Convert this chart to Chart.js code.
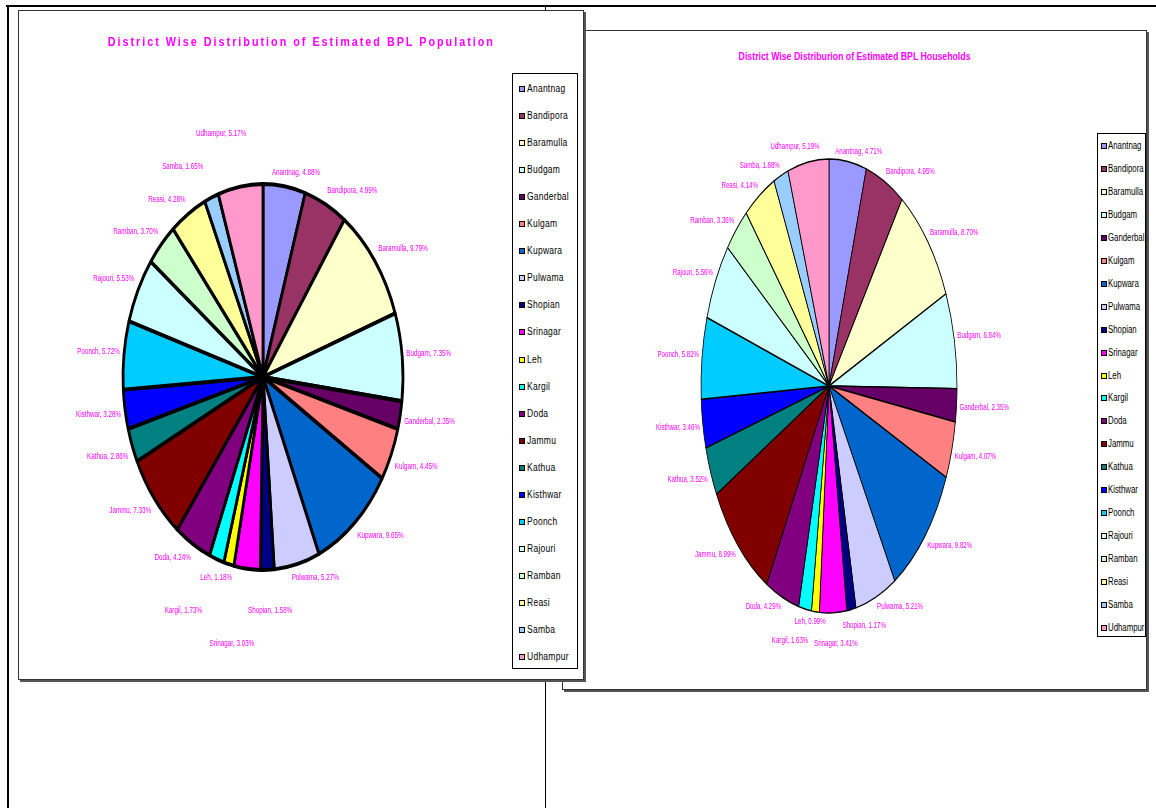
<!DOCTYPE html>
<html>
<head>
<meta charset="utf-8">
<title>District Wise Distribution of Estimated BPL</title>
<script src="https://cdn.jsdelivr.net/npm/chart.js@4.4.0/dist/chart.umd.min.js"></script>
<style>
body { margin: 0; background: #fff; width: 1156px; height: 808px; position: relative; overflow: hidden;
       font-family: "Liberation Sans", Arial, sans-serif; }
.rule { position: absolute; background: #000; }
.panel { position: absolute; background: #fff; border: 1px solid #333; box-shadow: 2px 2px 0 #555; }
.title { position: absolute; left: 0; right: 0; text-align: center; white-space: nowrap; }
.title span { display: inline-block; color: #f0f; font-weight: bold; transform-origin: center; }
.legend { position: absolute; border: 1px solid #000; background: #fff; }
.legend div { position: absolute; white-space: nowrap; color: #000; line-height: 10px; transform-origin: left center; }
.legend i { position: absolute; box-sizing: border-box; }
canvas { position: absolute; left: 0; top: 0; }
</style>
</head>
<body>
<div class="rule" style="left:6px;top:5px;width:1150px;height:2px"></div>
<div class="rule" style="left:7px;top:5px;width:2px;height:803px"></div>
<div class="rule" style="left:545px;top:5px;width:1px;height:803px"></div>

<div class="panel" id="hhPanel" style="left:562px;top:30px;width:583px;height:658px">
  <div class="title" style="top:15px"><span style="font-size:11.5px;transform:scaleX(0.76)">District Wise Distriburion of Estimated BPL Households</span></div>
  <canvas id="hhChart" width="583" height="658"></canvas>
  <div class="legend" id="hhLegend" style="left:534px;top:102px;width:47px;height:502px"></div>
</div>

<div class="panel" id="popPanel" style="left:18px;top:10px;width:564px;height:668px">
  <div class="title" style="top:21px"><span style="font-size:13px;letter-spacing:2.4px;transform:scaleX(0.83)">District Wise Distribution of Estimated BPL Population</span></div>
  <canvas id="popChart" width="564" height="668"></canvas>
  <div class="legend" id="popLegend" style="left:493px;top:62px;width:64px;height:594px"></div>
</div>

<script>
const districts = ["Anantnag", "Bandipora", "Baramulla", "Budgam", "Ganderbal", "Kulgam", "Kupwara", "Pulwama",
  "Shopian", "Srinagar", "Leh", "Kargil", "Doda", "Jammu", "Kathua", "Kisthwar", "Poonch", "Rajouri",
  "Ramban", "Reasi", "Samba", "Udhampur"];

// % share of estimated BPL population
const popShare = [4.88, 4.99, 9.79, 7.35, 2.35, 4.45, 9.65, 5.27, 1.58, 3.03, 1.18, 1.73, 4.24, 7.33,
  2.86, 3.28, 5.72, 5.53, 3.70, 4.28, 1.65, 5.17];

// % share of estimated BPL households
const hhShare = [4.71, 4.95, 8.70, 6.84, 2.35, 4.07, 9.82, 5.21, 1.17, 3.41, 0.99, 1.63, 4.29, 8.99,
  3.52, 3.46, 5.82, 5.56, 3.36, 4.14, 1.88, 5.19];

const sliceColours = ["#9999FF", "#993366", "#FFFFCC", "#CCFFFF", "#660066", "#FF8080", "#0066CC", "#CCCCFF",
  "#000080", "#FF00FF", "#FFFF00", "#00FFFF", "#800080", "#800000", "#008080", "#0000FF", "#00CCFF", "#CCFFFF",
  "#CCFFCC", "#FFFF99", "#99CCFF", "#FF99CC"];

const clamp = (v) => Math.max(-1, Math.min(1, v));

// squash the circular pie into the tall ellipse of the original and put labels round it
const ellipsePie = {
  id: 'ellipsePie',
  beforeDatasetsDraw(chart, args, opts) {
    const arc = chart.getDatasetMeta(0).data[0];
    const ctx = chart.ctx;
    ctx.save();
    ctx.translate(arc.x, arc.y);
    ctx.scale(1, opts.sy);
    ctx.translate(-arc.x, -arc.y);
  },
  afterDatasetsDraw(chart, args, opts) {
    const ctx = chart.ctx;
    ctx.restore();

    const values = chart.data.datasets[0].data;
    const placed = [];
    ctx.save();
    ctx.font = opts.font;
    ctx.fillStyle = '#FF00FF';
    ctx.textAlign = 'center';
    ctx.textBaseline = 'middle';
    chart.getDatasetMeta(0).data.forEach((el, i) => {
      const text = chart.data.labels[i] + ', ' + values[i].toFixed(2) + '%';
      const w = ctx.measureText(text).width * opts.squeeze;
      const h = opts.boxH;
      const mid = (el.startAngle + el.endAngle) / 2;
      const c = Math.cos(mid), s = Math.sin(mid);
      const fx = clamp(c * 3), fy = clamp(s * 3);
      let d = opts.gap, box;
      for (let n = 0; n < 300; n++) {
        const ax = el.x + el.outerRadius * c + d * c;
        const ay = el.y + el.outerRadius * opts.sy * s + d * s;
        const bx = ax + fx * w / 2, by = ay + fy * h / 2;
        box = { x1: bx - w / 2 - opts.mx, x2: bx + w / 2 + opts.mx, y1: by - h / 2 - opts.my, y2: by + h / 2 + opts.my, cx: bx, cy: by };
        const hit = placed.some(p => box.x1 < p.x2 && box.x2 > p.x1 && box.y1 < p.y2 && box.y2 > p.y1);
        if (!hit) break;
        d += 1;
      }
      placed.push(box);
      ctx.save();
      ctx.translate(box.cx, box.cy);
      ctx.scale(opts.squeeze, 1);
      ctx.fillText(text, 0, 0);
      ctx.restore();
    });
    ctx.restore();
  }
};

function buildLegend(id, opts) {
  const box = document.getElementById(id);
  districts.forEach((name, i) => {
    const y = opts.first + i * opts.step;
    const mark = document.createElement('i');
    mark.style.cssText = `left:${opts.markX}px;top:${y - opts.mark / 2}px;width:${opts.mark}px;height:${opts.mark}px;` +
      `background:${sliceColours[i]};border:${opts.markBorder}px solid #000`;
    const txt = document.createElement('div');
    txt.textContent = name;
    txt.style.cssText = `left:${opts.textX}px;top:${y - 5}px;font-size:${opts.fontSize}px;` +
      `letter-spacing:${opts.spacing}px;transform:scaleX(${opts.squeeze})`;
    box.appendChild(mark);
    box.appendChild(txt);
  });
}

function makePie(canvasId, values, o) {
  const cv = document.getElementById(canvasId);
  const half = o.rx + o.border / 2;
  return new Chart(cv, {
    type: 'pie',
    data: {
      labels: districts,
      datasets: [{
        data: values,
        backgroundColor: sliceColours,
        borderColor: '#000',
        borderWidth: o.border,
        clip: false
      }]
    },
    options: {
      responsive: false,
      animation: false,
      events: [],
      layout: {
        padding: { left: o.cx - half, right: cv.width - o.cx - half, top: o.cy - half, bottom: cv.height - o.cy - half }
      },
      plugins: {
        legend: { display: false },
        tooltip: { enabled: false },
        ellipsePie: o.labels
      }
    },
    plugins: [ellipsePie]
  });
}

makePie('popChart', popShare, { cx: 244, cy: 366, rx: 140, ry: 193, border: 2.8,
  labels: { sy: 193 / 140, gap: 4, boxH: 20, mx: 3, my: 6, squeeze: 0.74, font: '8.5px "Liberation Sans", Arial, sans-serif' } });
makePie('hhChart', hhShare, { cx: 266, cy: 355, rx: 128, ry: 227, border: 0.8,
  labels: { sy: 227 / 128, gap: 3, boxH: 14, mx: 2, my: 2, squeeze: 0.72, font: '8.5px "Liberation Sans", Arial, sans-serif' } });

buildLegend('popLegend', { first: 15, step: 27.05, markX: 6, mark: 6, markBorder: 1.5, textX: 14, fontSize: 10, spacing: 0.3, squeeze: 0.85 });
buildLegend('hhLegend', { first: 12, step: 22.95, markX: 3, mark: 6, markBorder: 1, textX: 10, fontSize: 10, spacing: 0, squeeze: 0.78 });
</script>
</body>
</html>
